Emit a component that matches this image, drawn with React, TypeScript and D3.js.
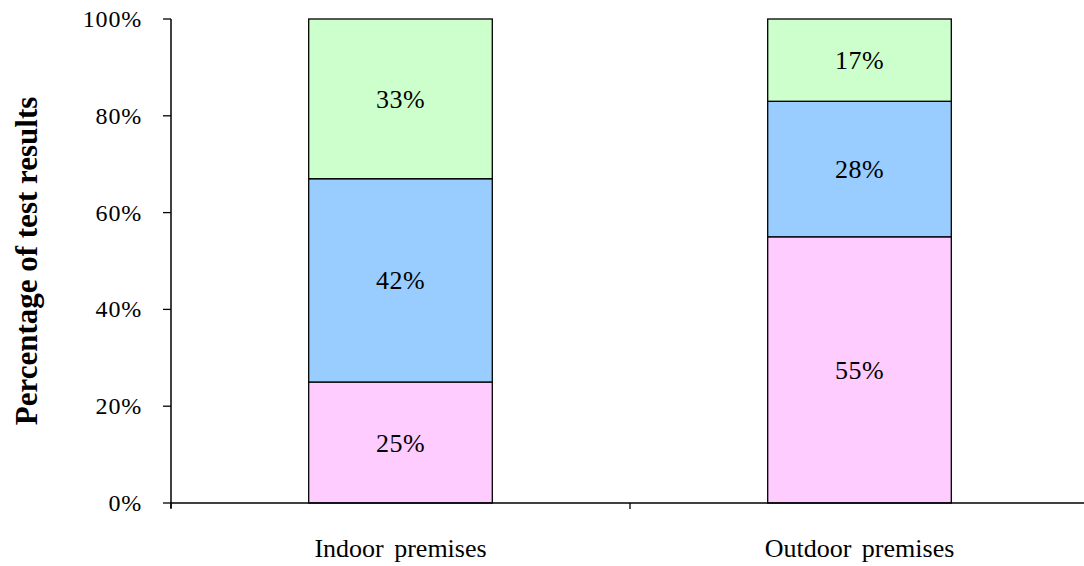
import React from "react";
import * as d3 from "d3";

const categories = ["Indoor premises", "Outdoor premises"];
const seriesNames = ["Bottom", "Middle", "Top"];
const bottomValues = [25, 55];
const middleValues = [42, 28];
const topValues = [33, 17];
const seriesColors = ["#FFCCFF", "#99CCFF", "#CCFFCC"];
const yTicks = [0, 20, 40, 60, 80, 100];

const W = 1084;
const H = 566;
const left = 171;
const right = 1089;
const top = 19;
const bottom = 503;
const FONT = "'Liberation Serif', 'Times New Roman', serif";

export default function App() {
  const x = d3.scaleBand<string>().domain(categories).range([left, right]).paddingInner(0.6).paddingOuter(0.3);
  const y = d3.scaleLinear().domain([0, 100]).range([bottom, top]);
  const rows = categories.map((c, i) => ({
    cat: c,
    [seriesNames[0]]: bottomValues[i],
    [seriesNames[1]]: middleValues[i],
    [seriesNames[2]]: topValues[i],
  }));
  const stack = d3.stack<any>().keys(seriesNames)(rows);
  const step = (right - left) / categories.length;
  const catTicks = d3.range(categories.length + 1).map((i) => left + i * step);

  return (
    <svg width={W} height={H} style={{ position: "absolute", left: 0, top: 0, background: "#fff" }}>
      {stack.map((layer, si) =>
        layer.map((d, ci) => {
          const x0 = x(categories[ci])!;
          const bw = x.bandwidth();
          const y0 = y(d[1]);
          const y1 = y(d[0]);
          return (
            <g key={`${si}-${ci}`}>
              <rect x={x0} y={y0} width={bw} height={y1 - y0} fill={seriesColors[si]} stroke="#000" strokeWidth={1.3} />
              <text x={x0 + bw / 2} y={(y0 + y1) / 2 + 9} textAnchor="middle" fontFamily={FONT} fontSize={26} letterSpacing={0.5} fill="#000">
                {`${d[1] - d[0]}%`}
              </text>
            </g>
          );
        })
      )}
      <line x1={left} x2={left} y1={top} y2={bottom + 5} stroke="#000" strokeWidth={1.5} />
      <line x1={left} x2={right} y1={bottom} y2={bottom} stroke="#000" strokeWidth={1.5} />
      {yTicks.map((t) => (
        <g key={t}>
          <line x1={left - 8} x2={left} y1={y(t)} y2={y(t)} stroke="#000" strokeWidth={1.3} />
          <text x={142} y={y(t) + 8} textAnchor="end" fontFamily={FONT} fontSize={24} letterSpacing={0.8} fill="#000">
            {`${t}%`}
          </text>
        </g>
      ))}
      {catTicks.map((t, i) => (
        <line key={i} x1={t} x2={t} y1={bottom} y2={bottom + 6} stroke="#000" strokeWidth={1.3} />
      ))}
      {categories.map((c) => (
        <text key={c} x={x(c)! + x.bandwidth() / 2} y={557} textAnchor="middle" fontFamily={FONT} fontSize={26} wordSpacing={4} fill="#000">
          {c}
        </text>
      ))}
      <text transform={`translate(37, 261) rotate(-90)`} textAnchor="middle" fontFamily={FONT} fontSize={31} fontWeight="bold" fill="#000">
        Percentage of test results
      </text>
    </svg>
  );
}
